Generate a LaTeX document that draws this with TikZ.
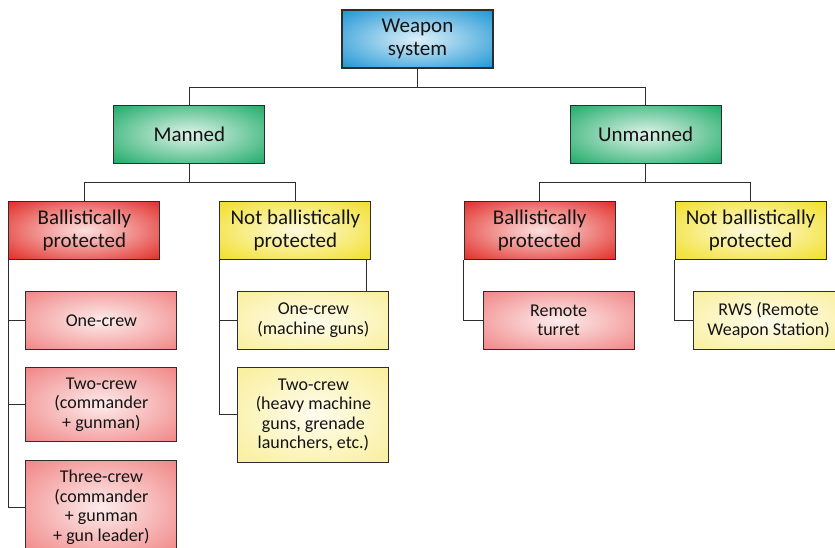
\documentclass[tikz,border=0pt]{standalone}
\usepackage{fontspec}
\setmainfont{Carlito}
\usetikzlibrary{positioning}

\definecolor{wsblue}{RGB}{26,148,212}
\definecolor{mgreen}{RGB}{28,170,102}
\definecolor{bred}{RGB}{226,42,36}
\definecolor{nyellow}{RGB}{242,222,36}
\definecolor{lpink}{RGB}{240,126,126}
\definecolor{lyellow}{RGB}{249,238,150}
\definecolor{boxline}{RGB}{45,45,45}
\definecolor{textdark}{RGB}{20,20,20}

\pgfdeclareradialshading{glowblue}{\pgfpoint{0bp}{0bp}}{color(0bp)=(white!85!wsblue); color(6bp)=(white!72!wsblue); color(36bp)=(wsblue); color(50bp)=(wsblue)}
\pgfdeclareradialshading{glowgreen}{\pgfpoint{0bp}{0bp}}{color(0bp)=(white!85!mgreen); color(6bp)=(white!72!mgreen); color(36bp)=(mgreen); color(50bp)=(mgreen)}
\pgfdeclareradialshading{glowred}{\pgfpoint{0bp}{0bp}}{color(0bp)=(white!85!bred); color(6bp)=(white!72!bred); color(36bp)=(bred); color(50bp)=(bred)}
\pgfdeclareradialshading{glowyellow}{\pgfpoint{0bp}{0bp}}{color(0bp)=(white!85!nyellow); color(6bp)=(white!72!nyellow); color(36bp)=(nyellow); color(50bp)=(nyellow)}
\pgfdeclareradialshading{glowpink}{\pgfpoint{0bp}{0bp}}{color(0bp)=(white!85!lpink); color(6bp)=(white!72!lpink); color(38bp)=(lpink); color(50bp)=(lpink)}
\pgfdeclareradialshading{glowpale}{\pgfpoint{0bp}{0bp}}{color(0bp)=(white!85!lyellow); color(6bp)=(white!70!lyellow); color(38bp)=(lyellow); color(50bp)=(lyellow)}

\begin{document}
\begin{tikzpicture}[
    x=1pt, y=1pt,
    box/.style={draw=boxline, line width=1.1pt, shade, align=center,
                minimum width=151pt, minimum height=58pt, inner sep=2pt, text=textdark},
    big/.style={box, font=\fontsize{21}{23}\selectfont},
    small/.style={box, font=\fontsize{18}{19.5}\selectfont},
    rootbox/.style={big, shading=glowblue},
    groupbox/.style={big, shading=glowgreen},
    protbox/.style={big, shading=glowred},
    openbox/.style={big, shading=glowyellow},
    protleaf/.style={small, shading=glowpink},
    openleaf/.style={small, shading=glowpale},
    link/.style={draw=boxline, line width=1.1pt}
]
\useasboundingbox (0,0) rectangle (835,-547);

\node[rootbox] (ws) at (417.5,-39) {Weapon\\system};
\node[groupbox, below left=36pt and 76pt of ws] (man) {Manned};
\node[groupbox, below right=36pt and 76pt of ws] (unm) {Unmanned};

\node[protbox, below=37pt of man, xshift=-105pt] (bpl) {Ballistically\\protected};
\node[openbox, below=37pt of man, xshift=106pt] (nbl) {Not ballistically\\protected};
\node[protbox, below=37pt of unm, xshift=-106pt] (bpr) {Ballistically\\protected};
\node[openbox, below=37pt of unm, xshift=105pt] (nbr) {Not ballistically\\protected};

\node[protleaf, below=31pt of bpl.south west, anchor=north west, xshift=17pt] (oc) {One-crew};
\node[protleaf, minimum height=74pt, below=17pt of oc] (tc) {Two-crew\\(commander\\+ gunman)};
\node[protleaf, minimum height=94pt, below=18pt of tc] (thc) {Three-crew\\(commander\\+ gunman\\+ gun leader)};

\node[openleaf, below=31pt of nbl.south west, anchor=north west, xshift=18pt] (om) {One-crew\\(machine guns)};
\node[openleaf, minimum height=95pt, below=17pt of om] (tm) {Two-crew\\(heavy machine\\guns, grenade\\launchers, etc.)};

\node[protleaf, below=31pt of bpr.south west, anchor=north west, xshift=19pt] (rt) {Remote\\turret};
\node[openleaf, below=31pt of nbr.south west, anchor=north west, xshift=18pt] (rws) {RWS (Remote\\Weapon Station)};

% tree links
\draw[link] (ws.south) -- ++(0,-19) coordinate (wsj) -| (man.north);
\draw[link] (wsj) -| (unm.north);
\draw[link] (man.south) -- ++(0,-19) coordinate (manj) -| (bpl.north);
\draw[link] (manj) -| (nbl.north);
\draw[link] (unm.south) -- ++(0,-19) coordinate (unmj) -| (bpr.north);
\draw[link] (unmj) -| (nbr.north);

\draw[link] (bpl.south west) |- (oc.west);
\draw[link] (bpl.south west) |- (tc.west);
\draw[link] (bpl.south west) |- (thc.west);
\draw[link] (nbl.south west) |- (om.west);
\draw[link] (nbl.south west) |- (tm.west);
\draw[link] (nbl.south east) ++(-5,0) coordinate (nblr) -- (nblr |- om.north);
\draw[link] (bpr.south west) |- (rt.west);
\draw[link] (nbr.south west) |- (rws.west);

\end{tikzpicture}
\end{document}
